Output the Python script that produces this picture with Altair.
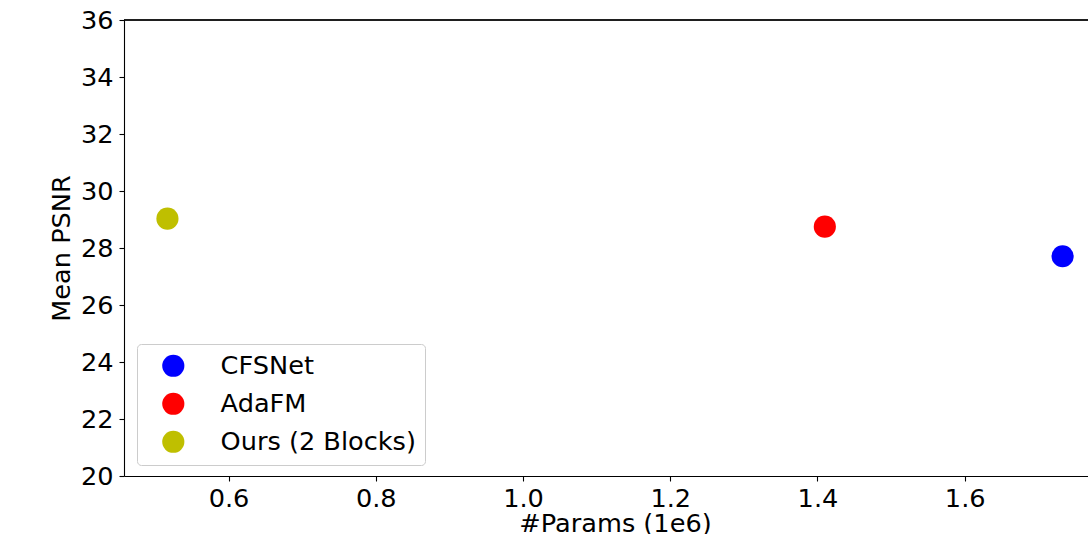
import altair as alt
import pandas as pd

methods = ["CFSNet", "AdaFM", "Ours (2 Blocks)"]
params_1e6 = [1.733, 1.410, 0.517]
mean_psnr = [27.71, 28.75, 29.03]
colors = ["#0000ff", "#ff0000", "#bfbf00"]
x_ticks = [0.6, 0.8, 1.0, 1.2, 1.4, 1.6]
y_ticks = [20, 22, 24, 26, 28, 30, 32, 34, 36]

df = pd.DataFrame({"method": methods, "params": params_1e6, "psnr": mean_psnr})

W, H = 964, 456
FONT = "DejaVu Sans"
FS = 25.6

points = alt.Chart(df).mark_circle(opacity=1, size=490, clip=True).encode(
    x=alt.X("params:Q",
            scale=alt.Scale(domain=[0.458, 1.7675], nice=False, zero=False),
            axis=alt.Axis(values=x_ticks, format=".1f", title="#Params (1e6)",
                          grid=False, tickSize=5, labelPadding=5,
                          titleX=491, titlePadding=0)),
    y=alt.Y("psnr:Q",
            scale=alt.Scale(domain=[20, 36], nice=False, zero=False),
            axis=alt.Axis(values=y_ticks, format="d", title="Mean PSNR",
                          grid=False, tickSize=5, labelPadding=6,
                          titlePadding=6)),
    color=alt.Color("method:N",
                    scale=alt.Scale(domain=methods, range=colors),
                    legend=alt.Legend(title=None, orient="none",
                                      legendX=13, legendY=324,
                                      symbolType="circle", symbolSize=490,
                                      symbolStrokeWidth=0, symbolOpacity=1,
                                      labelFontSize=FS, labelFont=FONT,
                                      labelColor="black", labelLimit=500,
                                      padding=9, rowPadding=11,
                                      symbolOffset=14.5, labelOffset=34.5,
                                      strokeColor="#cccccc", fillColor="white",
                                      cornerRadius=4)),
)

top_line = alt.Chart(df).mark_rule(color="black", strokeWidth=1.1).encode(
    y=alt.value(0), x=alt.value(0), x2=alt.value(W)
)

chart = alt.layer(top_line, points).properties(
    width=W, height=H,
    autosize=alt.AutoSizeParams(type="none"),
    padding={"left": 124, "top": 20, "right": 0, "bottom": 58},
).configure_view(stroke=None).configure_axis(
    labelFont=FONT, titleFont=FONT, labelFontSize=FS, titleFontSize=FS,
    labelColor="black", titleColor="black", titleFontWeight="normal",
    domainColor="black", tickColor="black", domainWidth=1.1, tickWidth=1.1,
)

chart.save("out.html", embed_options={"renderer": "svg", "actions": False})
